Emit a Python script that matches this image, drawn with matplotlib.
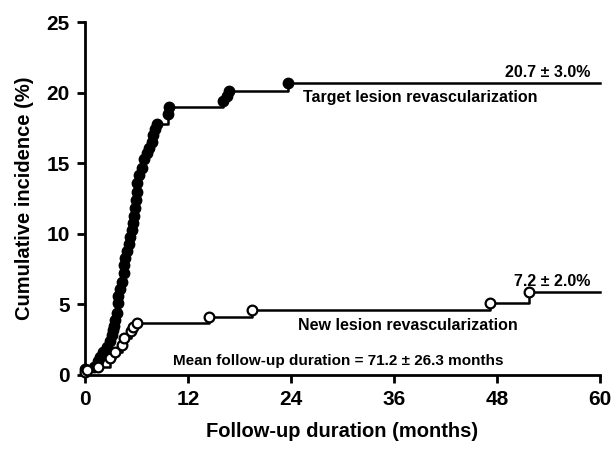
import matplotlib
matplotlib.use('Agg')
import matplotlib.pyplot as plt

plt.rcParams['font.family'] = ['Liberation Sans', 'DejaVu Sans']
plt.rcParams['font.weight'] = 'bold'

# target lesion revascularization events (months, cumulative %)
tlr_months = [0.0, 1.0, 1.5, 1.8, 2.1, 2.4, 2.6, 2.9, 3.1, 3.3, 3.4, 3.5, 3.7, 3.8,
              3.9, 4.1, 4.3, 4.5, 4.6, 4.7, 4.9, 5.1, 5.3, 5.5, 5.6, 5.7, 5.8, 5.9,
              6.0, 6.1, 6.3, 6.6, 6.9, 7.2, 7.5, 7.8, 7.9, 8.2, 8.4, 9.7, 9.8,
              16.1, 16.5, 16.8, 23.6]
tlr_pct = [0.4, 0.6, 1.0, 1.3, 1.6, 1.8, 2.0, 2.4, 2.8, 3.2, 3.5, 3.9, 4.4, 5.1,
           5.6, 6.1, 6.6, 7.2, 7.8, 8.3, 8.8, 9.3, 9.8, 10.3, 10.8, 11.3, 11.8, 12.4,
           13.0, 13.6, 14.2, 14.7, 15.3, 15.7, 16.1, 16.5, 17.0, 17.4, 17.8, 18.5, 19.0,
           19.4, 19.8, 20.1, 20.7]

# new lesion revascularization events
nlr_months = [0.0, 0.2, 1.5, 2.9, 3.5, 4.3, 4.5, 5.4, 5.6, 6.0, 14.4, 19.4, 47.2, 51.7]
nlr_pct = [0.2, 0.35, 0.6, 1.2, 1.65, 2.1, 2.6, 3.1, 3.4, 3.7, 4.1, 4.6, 5.1, 5.9]

x_ticks = [0, 12, 24, 36, 48, 60]
y_ticks = [0, 5, 10, 15, 20, 25]

fig = plt.figure(figsize=(6.16, 4.5), dpi=100)
ax = fig.add_axes([0.138, 0.1667, 0.836, 0.784])

ax.plot(tlr_months + [60], tlr_pct + [tlr_pct[-1]], drawstyle='steps-post',
        color='black', lw=1.8, clip_on=False)
ax.plot(tlr_months, tlr_pct, 'o', color='black', ms=7.5, clip_on=False, zorder=3)

ax.plot(nlr_months + [60], nlr_pct + [nlr_pct[-1]], drawstyle='steps-post',
        color='black', lw=1.8, clip_on=False)
ax.plot(nlr_months, nlr_pct, 'o', mfc='white', mec='black', mew=1.6, ms=7,
        clip_on=False, zorder=4)

ax.set_xlim(0, 60)
ax.set_ylim(0, 25)
ax.set_xticks(x_ticks)
ax.set_yticks(y_ticks)
ax.tick_params(direction='out', length=6, width=2, labelsize=15, pad=5)
for lab in ax.get_xticklabels() + ax.get_yticklabels():
    lab.set_fontweight('bold')

for s in ['top', 'right']:
    ax.spines[s].set_visible(False)
for s in ['left', 'bottom']:
    ax.spines[s].set_linewidth(2)

ax.set_xlabel('Follow-up duration (months)', fontsize=14.5, fontweight='bold', labelpad=9)
ax.set_ylabel('Cumulative incidence (%)', fontsize=14.5, fontweight='bold', labelpad=9)

ax.text(58.9, 21.45, '20.7 ± 3.0%', ha='right', va='center', fontsize=11.5, fontweight='bold')
ax.text(25.4, 19.65, 'Target lesion revascularization', ha='left', va='center',
        fontsize=11.5, fontweight='bold')
ax.text(58.9, 6.6, '7.2 ± 2.0%', ha='right', va='center', fontsize=11.5, fontweight='bold')
ax.text(37.6, 3.5, 'New lesion revascularization', ha='center', va='center',
        fontsize=11.5, fontweight='bold')
ax.text(29.5, 1.0, 'Mean follow-up duration = 71.2 ± 26.3 months', ha='center',
        va='center', fontsize=11, fontweight='bold')

fig.savefig('out.png', dpi=100)
